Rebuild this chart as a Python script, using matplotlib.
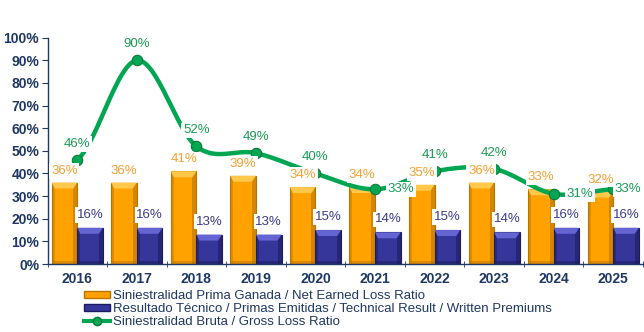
import numpy as np
import matplotlib
matplotlib.use('Agg')
import matplotlib.pyplot as plt
from matplotlib.patches import Rectangle, Patch
from matplotlib.lines import Line2D

years = ['2016', '2017', '2018', '2019', '2020', '2021', '2022', '2023', '2024', '2025']
net_earned = [36, 36, 41, 39, 34, 34, 35, 36, 33, 32]
technical = [16, 16, 13, 13, 15, 14, 15, 14, 16, 16]
gross = [46, 90, 52, 49, 40, 33, 41, 42, 31, 33]

lbl_net = 'Siniestralidad Prima Ganada / Net Earned Loss Ratio'
lbl_tec = 'Resultado Técnico / Primas Emitidas / Technical Result / Written Premiums'
lbl_gro = 'Siniestralidad Bruta / Gross Loss Ratio'

plt.rcParams['font.family'] = ['Liberation Sans Narrow', 'Liberation Sans', 'DejaVu Sans']

navy = '#1F3864'
orange = '#FFA200'
orange_lt = '#FFC84A'
orange_dk = '#B87400'
blue = '#35359A'
blue_lt = '#6464D2'
blue_dk = '#1C1C5E'
green = '#00A651'
green_txt = '#1A9A55'
orange_txt = '#F5A030'
blue_txt = '#3A3A8C'

fig = plt.figure(figsize=(6.44, 3.32), dpi=100)
ax = fig.add_axes([47.5/644, 1-264/332, (643-47.5)/644, (264-37.7)/332])

x = np.arange(len(years))
w = 0.43
ypx = 1/226.3 * 100  # data units per pixel (y)
xpx = 1/59.55        # data units per pixel (x)


def bevel_bar(xc, h, face, light, dark):
    x0 = xc - w/2
    ax.add_patch(Rectangle((x0, 0), w, h, facecolor=face, edgecolor=dark, lw=0.8, zorder=2))
    # side shading
    ax.add_patch(Rectangle((x0, 0), 3*xpx, h, facecolor=dark, alpha=0.45, lw=0, zorder=2.1))
    ax.add_patch(Rectangle((x0 + w - 4*xpx, 0), 4*xpx, h, facecolor=dark, alpha=0.6, lw=0, zorder=2.1))
    ax.add_patch(Rectangle((x0, 0), w, 3*ypx, facecolor=dark, alpha=0.5, lw=0, zorder=2.1))
    # top highlight
    t = min(6*ypx, h*0.4)
    ax.fill([x0, x0 + w, x0 + w - 4*xpx, x0 + 3*xpx],
            [h, h, h - t, h - t], color=light, lw=0, zorder=2.2)


for i in range(len(years)):
    bevel_bar(x[i] - w/2, net_earned[i], orange, orange_lt, orange_dk)
    bevel_bar(x[i] + w/2, technical[i], blue, blue_lt, blue_dk)

# smoothed line (Catmull-Rom, like the spreadsheet smoothing)
g = np.array(gross, dtype=float)
p = np.concatenate([[g[0]], g, [g[-1]]])
xs, ys = [], []
for i in range(len(g) - 1):
    p0, p1, p2, p3 = p[i], p[i+1], p[i+2], p[i+3]
    t = np.linspace(0, 1, 30)
    yy = 0.5*((2*p1) + (-p0 + p2)*t + (2*p0 - 5*p1 + 4*p2 - p3)*t**2 + (-p0 + 3*p1 - 3*p2 + p3)*t**3)
    xs.extend(x[i] + t)
    ys.extend(yy)
ax.plot(xs, ys, color=green, lw=3.2, zorder=3, solid_capstyle='round')
ax.plot(x, g, 'o', color=green, mec='#0B7A3A', ms=7.5, mew=0.8, zorder=3.5)

box = dict(facecolor='white', edgecolor='none', pad=1.2)
side = {5: 26, 8: 26, 9: 15}
for i in range(len(years)):
    ax.annotate(f'{net_earned[i]}%', (x[i] - w/2, net_earned[i]), xytext=(0, 12),
                textcoords='offset pixels', ha='center', va='center', fontsize=9.5,
                color=orange_txt, bbox=box, zorder=5)
    ax.annotate(f'{technical[i]}%', (x[i] + w/2, technical[i]), xytext=(0, 13),
                textcoords='offset pixels', ha='center', va='center', fontsize=9.5,
                color=blue_txt, bbox=box, zorder=5)
    off = (side[i], 0) if i in side else (0, 16)
    ax.annotate(f'{gross[i]}%', (x[i], gross[i]), xytext=off,
                textcoords='offset pixels', ha='center', va='center', fontsize=9.5,
                color=green_txt, bbox=box, zorder=5)

ax.set_xlim(-0.5, len(years) - 0.5)
ax.set_ylim(0, 100)
ax.set_yticks(np.arange(0, 101, 10))
ax.set_yticklabels([f'{v}%' for v in range(0, 101, 10)])
ax.set_xticks(x)
ax.set_xticklabels(years)
ax.set_xticks(np.arange(-0.5, len(years), 1), minor=True)
ax.tick_params(axis='x', which='major', length=0, pad=6, labelsize=10, labelcolor=navy)
ax.tick_params(axis='x', which='minor', length=4, direction='inout', color=navy)
ax.tick_params(axis='y', length=4, direction='out', color=navy, labelsize=10, labelcolor=navy, pad=2)
for s in ['top', 'right']:
    ax.spines[s].set_visible(False)
for s in ['left', 'bottom']:
    ax.spines[s].set_color(navy)
    ax.spines[s].set_linewidth(1)
for lab in ax.get_xticklabels() + ax.get_yticklabels():
    lab.set_fontweight('bold')

handles = [Patch(facecolor=orange, edgecolor=orange_dk),
           Patch(facecolor=blue, edgecolor=blue_dk),
           Line2D([], [], color=green, lw=3, marker='o', ms=6, mec='#0B7A3A')]
fig.legend(handles, [lbl_net, lbl_tec, lbl_gro], loc='upper left',
           bbox_to_anchor=(84/644, 1-290/332), frameon=False, fontsize=9.5,
           handlelength=2.0, handleheight=0.5, handletextpad=0.2, labelspacing=0.08,
           borderpad=0, borderaxespad=0, labelcolor=navy)

fig.savefig('out.png', dpi=100)
